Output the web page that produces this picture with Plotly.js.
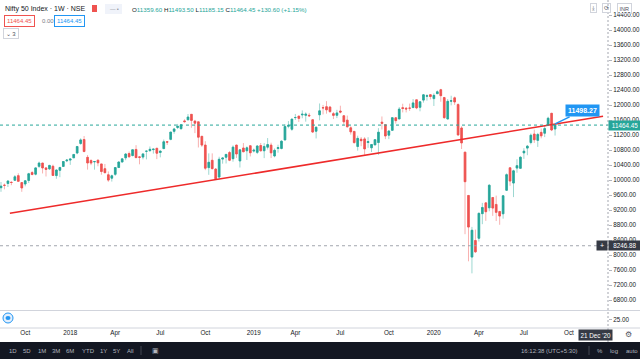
<!DOCTYPE html>
<html><head><meta charset="utf-8">
<script src="https://cdn.plot.ly/plotly-3.0.1.min.js"></script>
<style>html,body{margin:0;padding:0;background:#fff;}#chart{width:640px;height:359px;}</style>
</head><body><div id="chart"></div>
<script>
const weeks = [
'2017-08-14','2017-08-21','2017-08-28','2017-09-04','2017-09-11','2017-09-18','2017-09-25','2017-10-02','2017-10-09','2017-10-16',
'2017-10-23','2017-10-30','2017-11-06','2017-11-13','2017-11-20','2017-11-27','2017-12-04','2017-12-11','2017-12-18','2017-12-25',
'2018-01-01','2018-01-08','2018-01-15','2018-01-22','2018-01-29','2018-02-05','2018-02-12','2018-02-19','2018-02-26','2018-03-05',
'2018-03-12','2018-03-19','2018-03-26','2018-04-02','2018-04-09','2018-04-16','2018-04-23','2018-04-30','2018-05-07','2018-05-14',
'2018-05-21','2018-05-28','2018-06-04','2018-06-11','2018-06-18','2018-06-25','2018-07-02','2018-07-09','2018-07-16','2018-07-23',
'2018-07-30','2018-08-06','2018-08-13','2018-08-20','2018-08-27','2018-09-03','2018-09-10','2018-09-17','2018-09-24','2018-10-01',
'2018-10-08','2018-10-15','2018-10-22','2018-10-29','2018-11-05','2018-11-12','2018-11-19','2018-11-26','2018-12-03','2018-12-10',
'2018-12-17','2018-12-24','2018-12-31','2019-01-07','2019-01-14','2019-01-21','2019-01-28','2019-02-04','2019-02-11','2019-02-18',
'2019-02-25','2019-03-04','2019-03-11','2019-03-18','2019-03-25','2019-04-01','2019-04-08','2019-04-15','2019-04-22','2019-04-29',
'2019-05-06','2019-05-13','2019-05-20','2019-05-27','2019-06-03','2019-06-10','2019-06-17','2019-06-24','2019-07-01','2019-07-08',
'2019-07-15','2019-07-22','2019-07-29','2019-08-05','2019-08-12','2019-08-19','2019-08-26','2019-09-02','2019-09-09','2019-09-16',
'2019-09-23','2019-09-30','2019-10-07','2019-10-14','2019-10-21','2019-10-28','2019-11-04','2019-11-11','2019-11-18','2019-11-25',
'2019-12-02','2019-12-09','2019-12-16','2019-12-23','2019-12-30','2020-01-06','2020-01-13','2020-01-20','2020-01-27','2020-02-03',
'2020-02-10','2020-02-17','2020-02-24','2020-03-02','2020-03-09','2020-03-16','2020-03-23','2020-03-30','2020-04-06','2020-04-13',
'2020-04-20','2020-04-27','2020-05-04','2020-05-11','2020-05-18','2020-05-25','2020-06-01','2020-06-08','2020-06-15','2020-06-22',
'2020-06-29','2020-07-06','2020-07-13','2020-07-20','2020-07-27','2020-08-03','2020-08-10','2020-08-17','2020-08-24','2020-08-31',
'2020-09-07'];
const opens = [
9794,9860,9907,9937,9991,10116,9930,9893,9989,10198,
10156,10364,10451,10322,10298,10366,10118,10259,10362,10511,
10531,10591,10719,10975,11080,10604,10519,10488,10528,10428,
10301,10138,10049,10152,10333,10479,10592,10705,10653,10815,
10616,10611,10765,10782,10810,10847,10733,10838,11018,11084,
11297,11401,11369,11576,11605,11751,11570,11551,11165,10931,
10331,10525,10291,10078,10558,10607,10731,10568,10931,10508,
10853,10780,10913,10771,10737,10919,10780,10876,10930,10641,
10840,10842,11069,11432,11354,11665,11704,11736,11725,11725,
11606,11301,11740,11929,11954,11945,11769,11725,11839,11713,
11596,11390,11296,10895,11087,11095,11000,10860,10936,11000,
11542,11474,11196,11324,11658,11627,11928,11913,11915,11931,
12138,11939,12130,12235,12274,12170,12302,12407,12197,11627,
12102,12190,12012,11387,10742,9587,7945,8385,8446,9103,
9390,9259,9533,9348,9158,9099,9726,10326,9919,10318,
10311,10723,10851,10999,11225,11057,11270,11248,11466,11777,
11359.60];
const highs = [
9947,9905,9988,9967,10131,10179,9942,10000,10191,10237,
10340,10490,10461,10344,10404,10409,10286,10355,10502,10552,
10567,10690,10906,11111,11172,10667,10555,10499,10546,10432,
10427,10228,10143,10345,10497,10572,10719,10759,10812,10929,
10637,10710,10779,10893,10837,10850,10786,11079,11030,11283,
11390,11495,11487,11620,11760,11751,11603,11552,11171,11035,
10710,10710,10318,10620,10600,10695,10774,10922,10941,10815,
10985,10895,10923,10839,10930,10987,10983,11118,10995,10841,
10941,11058,11488,11572,11630,11761,11711,11856,11803,11789,
11625,11427,12041,12001,12103,11975,11814,11871,11981,11723,
11718,11434,11307,11181,11145,11143,11141,10960,11082,11382,
11694,11482,11331,11674,11679,11946,12034,11946,12038,12159,
12138,12098,12294,12287,12293,12311,12389,12431,12216,12160,
12247,12225,12046,11433,10751,9602,8749,8678,9131,9390,
9390,9890,9533,9584,9178,9599,10177,10328,10273,10554,
10631,10848,10934,11240,11342,11256,11374,11460,11687,11794,
11493.50];
const lows = [
9685,9752,9813,9861,9980,9952,9685,9831,9920,10124,
10124,10321,10175,10094,10270,10108,10033,10075,10361,10477,
10404,10587,10688,10938,10737,10277,10396,10276,10367,10141,
10180,9951,9958,10111,10318,10474,10527,10601,10628,10590,
10418,10550,10550,10755,10703,10557,10604,10822,10934,11060,
11234,11359,11341,11529,11593,11393,11250,10867,10882,10262,
10139,10281,10005,10020,10435,10441,10502,10488,10588,10333,
10738,10535,10629,10735,10692,10756,10583,10813,10585,10605,
10729,10817,11052,11380,11312,11600,11549,11646,11556,11686,
11255,11108,11592,11749,11769,11790,11625,11651,11776,11462,
11399,11210,10972,10783,10901,10670,10857,10746,10929,10671,
11347,11090,11090,11312,11505,11627,11802,11802,11842,11921,
11888,11832,12064,12116,12149,11974,12292,12087,11633,11614,
11990,12003,11175,10827,8555,7832,7511,8055,8360,8822,
8910,9166,9043,8906,8806,8968,9706,9845,9544,10194,
10299,10562,10661,10950,10988,10882,11112,11144,11452,11304,
11185.15];
const closes = [
9837,9857,9974,9934,10085,9964,9788,9979,10167,10147,
10323,10452,10321,10283,10389,10121,10265,10333,10493,10530,
10559,10681,10894,11069,10760,10454,10452,10491,10458,10226,
10195,9998,10113,10331,10480,10564,10692,10618,10807,10596,
10605,10696,10768,10818,10822,10714,10772,11019,11010,11278,
11361,11430,11471,11557,11680,11589,11515,11143,10930,10316,
10472,10303,10030,10553,10585,10682,10527,10876,10694,10805,
10754,10859,10727,10795,10907,10780,10894,10944,10724,10792,
10864,11035,11427,11456,11624,11666,11643,11753,11755,11712,
11279,11407,11844,11923,11871,11824,11724,11789,11811,11552,
11419,11284,10997,11110,11048,10829,11023,10947,11076,11274,
11512,11175,11305,11662,11583,11890,11908,11895,11914,12056,
11922,12087,12272,12246,12227,12257,12352,12248,11662,12098,
12113,12081,11202,10989,9955,8745,8660,8084,9112,9267,
9154,9860,9252,9137,9039,9580,10142,9972,10244,10383,
10608,10768,10902,11194,11073,11214,11178,11372,11647,11334,
11464.45];

const trendDates = ['2017-09-01', '2020-12-13'];
const trendValues = [9112, 11700];
const trendLabelValue = 11498.27;
const lastPrice = 11464.45;
const crossPrice = 8246.88;
const priceTicks = [6800,7200,7600,8000,8400,8800,9200,9600,10000,10400,10800,11200,11600,12000,12400,12800,13200,13600,14000,14400];
const lowerPaneTicks = [25];
const timeTickDates = ['2017-10-02','2018-01-01','2018-04-02','2018-07-02','2018-10-01','2019-01-07','2019-04-01','2019-07-01','2019-10-07','2020-01-06','2020-04-06','2020-07-06','2020-10-05'];
const timeTickText = ['Oct','2018','Apr','Jul','Oct','2019','Apr','Jul','Oct','2020','Apr','Jul','Oct'];
const lastBarDate = weeks[weeks.length - 1];

const UP = '#26a69a', DOWN = '#ef5350';
const FONT = 'Liberation Sans, Arial, sans-serif';
const TXT = '#131722';

const bodyHigh = opens.map((o, i) => Math.max(o, closes[i]));
const bodyLow = opens.map((o, i) => Math.min(o, closes[i]));

const traces = [
  { type: 'candlestick', x: weeks, open: opens, high: highs, low: lows, close: closes,
    increasing: { line: { color: 'rgba(38,166,154,0.45)', width: 1 }, fillcolor: 'rgba(38,166,154,0.45)' },
    decreasing: { line: { color: 'rgba(239,83,80,0.45)', width: 1 }, fillcolor: 'rgba(239,83,80,0.45)' },
    whiskerwidth: 0, hoverinfo: 'skip', showlegend: false, xaxis: 'x', yaxis: 'y' },
  { type: 'candlestick', x: weeks, open: opens, high: bodyHigh, low: bodyLow, close: closes,
    increasing: { line: { color: UP, width: 0.6 }, fillcolor: UP },
    decreasing: { line: { color: DOWN, width: 0.6 }, fillcolor: DOWN },
    whiskerwidth: 0, hoverinfo: 'skip', showlegend: false, xaxis: 'x', yaxis: 'y' },
  { type: 'scatter', mode: 'lines', x: trendDates, y: trendValues,
    line: { color: '#ee2a2a', width: 1.6 }, hoverinfo: 'skip', showlegend: false, xaxis: 'x', yaxis: 'y' },
  // empty lower pane (indicator pane)
  { type: 'scatter', mode: 'lines', x: [], y: [], hoverinfo: 'skip', showlegend: false, xaxis: 'x', yaxis: 'y2' }
];

const W = 608, H = 328;
const px = x => x / W;
const py = y => (H - y) / H;

function txt(text, x, y, o) {
  o = o || {};
  return Object.assign({ xref: 'paper', yref: 'paper', x: px(x), y: py(y), text: text, showarrow: false,
    xanchor: 'left', yanchor: 'middle', font: { family: FONT, size: o.size || 6.3, color: o.color || TXT } }, o.extra || {});
}

const ohlcText = 'O<span style="color:' + UP + '">' + opens[opens.length-1].toFixed(2) + '</span> ' +
  'H<span style="color:' + UP + '">' + highs[highs.length-1].toFixed(2) + '</span> ' +
  'L<span style="color:' + UP + '">' + lows[lows.length-1].toFixed(2) + '</span> ' +
  'C<span style="color:' + UP + '">' + closes[closes.length-1].toFixed(2) + '</span> ' +
  '<span style="color:' + UP + '">+130.60 (+1.15%)</span>';

const annotations = [
  txt('Nifty 50 Index · 1W · NSE', 3, 9, { size: 7 }),
  txt(ohlcText, 130, 9, { size: 6.2 }),
  txt('11464.45', 4, 21, { size: 6, color: DOWN, extra: { bordercolor: DOWN, borderwidth: 1, borderpad: 2 } }),
  txt('0.00', 40, 21, { size: 6, color: '#787b86' }),
  txt('11464.45', 54, 21, { size: 6, color: '#2196f3', extra: { bordercolor: '#2196f3', borderwidth: 1, borderpad: 2 } }),
  txt('⌄ 3', 3, 34, { size: 6, color: '#50535e', extra: { bordercolor: '#d1d4dc', borderwidth: 1, borderpad: 1.5 } }),
  txt('— ▪', 108, 9, { size: 5.5, color: '#9598a1' }),
  txt('⤓', 590, 8, { size: 6, color: '#50535e', extra: { bordercolor: '#d1d4dc', borderwidth: 1, borderpad: 1 } }),
  txt('⟳', 602, 8, { size: 6, color: '#50535e', extra: { bordercolor: '#d1d4dc', borderwidth: 1, borderpad: 1 } }),
  txt('INR', 617, 8, { size: 5.5, color: '#50535e', extra: { bordercolor: '#d1d4dc', borderwidth: 1, borderpad: 1.5 } }),
  // price scale labels
  { xref: 'paper', yref: 'y', x: 1, y: lastPrice, text: lastPrice.toFixed(2), showarrow: false, xanchor: 'left', yanchor: 'middle',
    bgcolor: UP, width: 30, borderpad: 1, font: { family: FONT, size: 6.3, color: '#ffffff' } },
  { xref: 'paper', yref: 'y', x: 1, y: crossPrice, text: crossPrice.toFixed(2), showarrow: false, xanchor: 'left', yanchor: 'middle',
    bgcolor: '#363a45', width: 30, borderpad: 1, font: { family: FONT, size: 6.3, color: '#ffffff' } },
  { xref: 'paper', yref: 'y', x: 1, y: crossPrice, text: '+', showarrow: false, xanchor: 'right', yanchor: 'middle',
    bgcolor: '#363a45', width: 8, borderpad: 1, font: { family: FONT, size: 7, color: '#ffffff' } },
  // trend line value label
  { xref: 'x', yref: 'y', x: lastBarDate, y: trendLabelValue, text: '<b>' + trendLabelValue.toFixed(2) + '</b>', showarrow: true,
    arrowhead: 0, arrowwidth: 1.5, arrowcolor: '#2196f3', ax: 27, ay: -13, axref: 'pixel', ayref: 'pixel',
    xanchor: 'center', yanchor: 'middle', bgcolor: '#2196f3', borderpad: 2,
    font: { family: FONT, size: 7, color: '#ffffff' } },
  // time crosshair label
  txt("21 Dec '20", 578, 335, { size: 6.3, color: '#ffffff', extra: { bgcolor: '#363a45', borderpad: 1.5 } }),
  txt('⚙', 623, 335, { size: 8, color: '#50535e' }),
  // toolbar
  txt('1D', 7, 350.5, { size: 6, color: '#b2b5be' }),
  txt('5D', 21, 350.5, { size: 6, color: '#b2b5be' }),
  txt('1M', 36, 350.5, { size: 6, color: '#b2b5be' }),
  txt('3M', 50, 350.5, { size: 6, color: '#b2b5be' }),
  txt('6M', 64, 350.5, { size: 6, color: '#b2b5be' }),
  txt('YTD', 80, 350.5, { size: 6, color: '#b2b5be' }),
  txt('1Y', 98, 350.5, { size: 6, color: '#b2b5be' }),
  txt('5Y', 111, 350.5, { size: 6, color: '#b2b5be' }),
  txt('All', 125, 350.5, { size: 6, color: '#b2b5be' }),
  txt('▣', 150, 350.5, { size: 7, color: '#b2b5be' }),
  txt('16:12:38 (UTC+5:30)', 519, 350.5, { size: 6, color: '#b2b5be' }),
  txt('%', 595, 350.5, { size: 6, color: '#b2b5be' }),
  txt('log', 608, 350.5, { size: 6, color: '#b2b5be' }),
  txt('auto', 624, 350.5, { size: 6, color: '#b2b5be' })
];

const shapes = [
  { type: 'line', xref: 'paper', yref: 'y', x0: 0, x1: 1, y0: lastPrice, y1: lastPrice, line: { color: UP, width: 1, dash: 'dot' } },
  { type: 'line', xref: 'paper', yref: 'y', x0: 0, x1: 1, y0: crossPrice, y1: crossPrice, line: { color: '#a3a6af', width: 1, dash: '3px,3px' } },
  { type: 'line', xref: 'paper', yref: 'paper', x0: 1, x1: 1, y0: py(342), y1: 1, line: { color: '#a3a6af', width: 1, dash: '2px,2px' } },
  { type: 'line', xref: 'paper', yref: 'paper', x0: 0, x1: px(640), y0: py(310.5), y1: py(310.5), line: { color: '#d1d4dc', width: 1 } },
  { type: 'line', xref: 'paper', yref: 'paper', x0: 0, x1: px(640), y0: py(328), y1: py(328), line: { color: '#d1d4dc', width: 1 } },
  { type: 'rect', xref: 'paper', yref: 'paper', x0: 0, x1: px(640), y0: py(359), y1: py(342), fillcolor: '#131722', line: { width: 0 }, layer: 'above' },
  { type: 'line', xref: 'paper', yref: 'paper', x0: px(141), x1: px(141), y0: py(346), y1: py(355), line: { color: '#434651', width: 1 }, layer: 'above' },
  { type: 'line', xref: 'paper', yref: 'paper', x0: px(589), x1: px(589), y0: py(346), y1: py(355), line: { color: '#434651', width: 1 }, layer: 'above' },
  { type: 'rect', xref: 'paper', yref: 'paper', x0: px(92), x1: px(97), y0: py(12), y1: py(5), fillcolor: DOWN, line: { width: 0 } },
  { type: 'rect', xref: 'paper', yref: 'paper', x0: px(105), x1: px(122), y0: py(14), y1: py(4), fillcolor: '#f0f3fa', line: { width: 0 }, layer: 'below' },
  { type: 'circle', xref: 'paper', yref: 'paper', x0: px(3), x1: px(13), y0: py(323), y1: py(313), fillcolor: '#e3effd', line: { color: '#2196f3', width: 1 } },
  { type: 'circle', xref: 'paper', yref: 'paper', x0: px(5.5), x1: px(10.5), y0: py(320), y1: py(316), fillcolor: '#2196f3', line: { width: 0 } }
];

const layout = {
  width: 640, height: 359,
  margin: { l: 0, r: 32, t: 0, b: 31, pad: 0 },
  paper_bgcolor: '#ffffff', plot_bgcolor: '#ffffff',
  showlegend: false,
  font: { family: FONT, color: TXT, size: 6.3 },
  xaxis: { type: 'date', range: ['2017-08-12', '2020-12-23'], anchor: 'y2', domain: [0, 1],
    tickmode: 'array', tickvals: timeTickDates, ticktext: timeTickText, ticks: '', showgrid: false, zeroline: false,
    showline: false, rangeslider: { visible: false }, tickfont: { family: FONT, size: 6.3, color: TXT }, fixedrange: true },
  yaxis: { domain: [18 / 328, 1], range: [6533.3, 14800], side: 'right', anchor: 'x',
    tickmode: 'array', tickvals: priceTicks, ticktext: priceTicks.map(v => v.toFixed(2)),
    ticks: 'outside', ticklen: 3, tickcolor: '#b2b5be', showgrid: false, zeroline: false, showline: false,
    tickfont: { family: FONT, size: 6.3, color: TXT }, fixedrange: true },
  yaxis2: { domain: [0, 17 / 328], range: [0, 50], side: 'right', anchor: 'x',
    tickmode: 'array', tickvals: lowerPaneTicks, ticktext: lowerPaneTicks.map(v => v.toFixed(2)), ticks: 'outside', ticklen: 3, tickcolor: '#b2b5be',
    showgrid: false, zeroline: false, showline: false, tickfont: { family: FONT, size: 6.3, color: TXT }, fixedrange: true },
  shapes: shapes,
  annotations: annotations
};

Plotly.newPlot('chart', traces, layout, { displayModeBar: false, staticPlot: true });
</script>
</body></html>
